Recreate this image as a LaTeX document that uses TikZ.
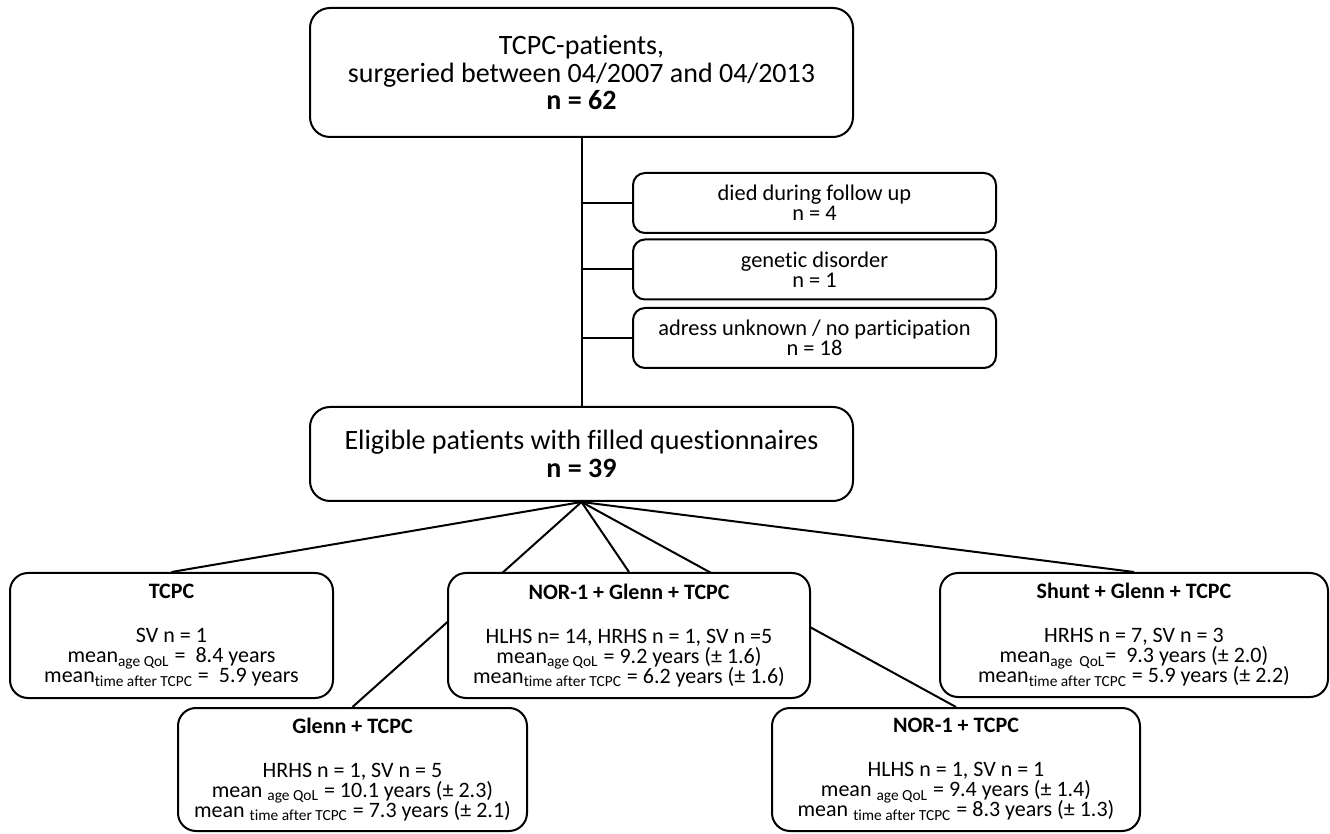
\documentclass[tikz,border=0pt]{standalone}
\usepackage{fontspec}
\setmainfont[Ligatures=NoCommon]{Carlito}
\usetikzlibrary{backgrounds}
\newcommand{\tightlines}{\lineskiplimit=-8pt\relax}

\begin{document}
\begin{tikzpicture}[x=0.5pt,y=-0.5pt,
    box/.style={draw, line width=1pt, fill=white, align=center, inner sep=0pt},
    bigbox/.style={box, rounded corners=10pt, minimum width=271.5pt,
      font=\fontsize{14}{13.7}\selectfont\tightlines},
    sidebox/.style={box, rounded corners=6pt, minimum width=181.5pt, minimum height=30pt,
      font=\fontsize{11.2}{10}\selectfont\tightlines},
    groupbox/.style={box, rounded corners=9pt,
      font=\fontsize{11}{10}\selectfont\tightlines},
    link/.style={line width=1pt}]
    \useasboundingbox (0,0) rectangle (1330,834);
    %\draw[very thin,gray] (0,0) grid[step=100] (1330,834);

    % top of the chart
    \node[bigbox, minimum height=64.5pt] (all) at (581.5,72.5)
        {TCPC-patients,\\ surgeried between 04/2007 and 04/2013\\ \textbf{n = 62}};
    \node[bigbox, minimum height=47pt] (elig) at (581.5,454)
        {Eligible patients with filled questionnaires\\ \textbf{n = 39}};

    % excluded
    \node[sidebox] (died) at (814.5,203) {died during follow up\\ n = 4};
    \node[sidebox] (genetic) at (814.5,269.5) {genetic disorder\\ n = 1};
    \node[sidebox] (adress) at (814.5,338) {adress unknown / no participation\\ n = 18};

    % groups
    \node[groupbox, minimum width=161.5pt, minimum height=62.5pt] (tcpc) at (171.5,635.5)
        {\textbf{TCPC}\\[12pt] SV n = 1\\
         mean\textsubscript{age QoL} =~~8.4 years\\
         mean\textsubscript{time after TCPC} =~~5.9 years};
    \node[groupbox, minimum width=181pt, minimum height=62.5pt] (norglenn) at (629,635.5)
        {\textbf{NOR-1 + Glenn + TCPC}\\[12pt] HLHS n= 14, HRHS n = 1, SV n =5\\
         mean\textsubscript{age QoL} = 9.2 years (± 1.6)\\
         mean\textsubscript{time after TCPC} = 6.2 years (± 1.6)};
    \node[groupbox, minimum width=194pt, minimum height=62pt] (shunt) at (1134,635)
        {\textbf{Shunt + Glenn + TCPC}\\[12pt] HRHS n = 7, SV n = 3\\
         mean\textsubscript{age~~QoL}=~~9.3 years (± 2.0)\\
         mean\textsubscript{time after TCPC} = 5.9 years (± 2.2)};
    \node[groupbox, minimum width=174.5pt, minimum height=61.5pt] (glenn) at (352.5,769.5)
        {\textbf{Glenn + TCPC}\\[12pt] HRHS n = 1, SV n = 5\\
         mean \textsubscript{age QoL} = 10.1 years (± 2.3)\\
         mean \textsubscript{time after TCPC} = 7.3 years (± 2.1)};
    \node[groupbox, minimum width=184pt, minimum height=61.5pt] (norone) at (956,769.5)
        {\textbf{NOR-1 + TCPC}\\[12pt] HLHS n = 1, SV n = 1\\
         mean \textsubscript{age QoL} = 9.4 years (± 1.4)\\
         mean \textsubscript{time after TCPC} = 8.3 years (± 1.3)};

    \begin{scope}[on background layer]
    \draw[link] (all.south) -- (elig.north);
    \draw[link] (all.south |- died.west) -- (died.west);
    \draw[link] (all.south |- genetic.west) -- (genetic.west);
    \draw[link] (all.south |- adress.west) -- (adress.west);

    \draw[link] (elig.south) -- (tcpc.north);
    \draw[link] (elig.south) -- (glenn.north);
    \draw[link] (elig.south) -- (norglenn.north);
    \draw[link] (elig.south) -- (norone.north);
    \draw[link] (elig.south) -- (shunt.north);
    \end{scope}
\end{tikzpicture}
\end{document}
